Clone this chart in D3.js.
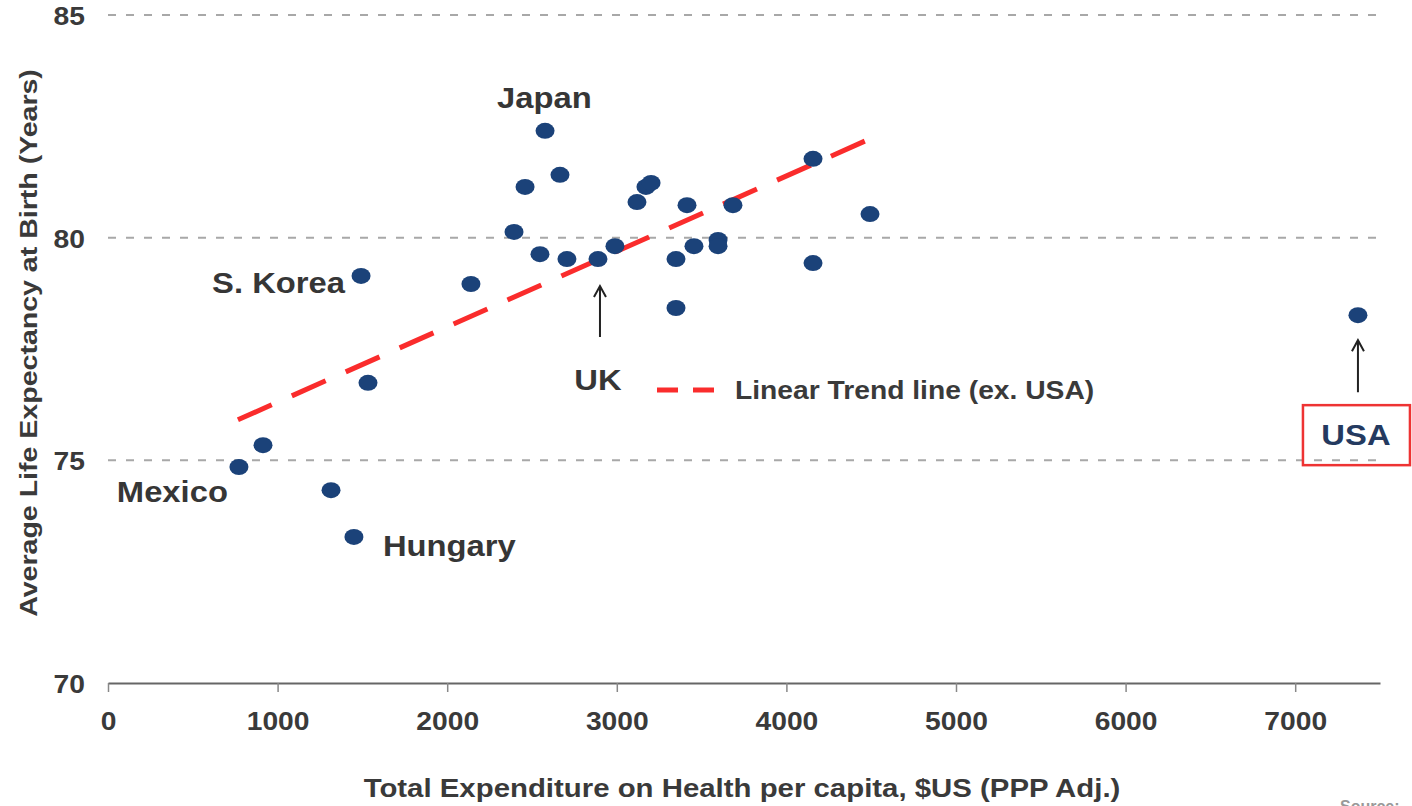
<!DOCTYPE html>
<html lang="en">
<head>
<meta charset="utf-8">
<title>Life expectancy vs health expenditure</title>
<script src="https://cdn.jsdelivr.net/npm/d3@7"></script>
<style>
  body { margin: 0; background: #fff; }
  svg { display: block; font-family: "Liberation Sans", Arial, sans-serif; font-weight: bold; }
  .grid { stroke: #a8a8a8; stroke-width: 2; stroke-dasharray: 8 10; }
  .axis path { stroke: #666; stroke-width: 2; }
  .axis line { stroke: #888; stroke-width: 1.5; }
</style>
</head>
<body>
<div id="chart"></div>
<script>
var width = 1412, height = 806;

// health spend per capita ($US PPP) and life expectancy (years)
var country = ["Mexico", "", "", "Hungary", "S. Korea", "", "", "", "", "", "Japan", "", "", "UK", "",
               "", "", "", "", "", "", "", "", "", "", "", "", "", "USA"];
var spend   = [772, 914, 1315, 1450, 1492, 1533, 2140, 2394, 2459, 2547, 2577, 2665, 2706, 2889, 2989,
               3119, 3172, 3202, 3349, 3349, 3414, 3455, 3597, 3597, 3685, 4157, 4157, 4493, 7370];
var lifeExp = [74.85, 75.34, 74.33, 73.28, 79.14, 76.74, 78.96, 80.13, 81.14, 79.63, 82.40, 81.41, 79.52, 79.52, 79.81,
               80.80, 81.14, 81.23, 79.52, 78.42, 80.73, 79.81, 79.95, 79.81, 80.73, 81.77, 79.43, 80.53, 78.26];

// trend line (ex. USA) end points
var trendX = [766, 4505];
var trendY = [75.91, 82.24];

var xTicks = [0, 1000, 2000, 3000, 4000, 5000, 6000, 7000];
var yTicks = [70, 75, 80, 85];

var svg = d3.select("#chart").append("svg")
    .attr("width", width)
    .attr("height", height);

var x = d3.scaleLinear().domain([0, 7500]).range([108, 1380]);
var y = d3.scaleLinear().domain([70, 85]).range([683, 15]);

var k = 1.13; // text in the picture is a bit wider than Arial

function put(sel, px, py, kx) {
  return sel.attr("transform", "translate(" + px + "," + py + ") scale(" + (kx || k) + ",1)");
}

// grid
svg.selectAll(".grid")
    .data(yTicks.filter(function(d) { return d > 70; }))
  .enter().append("line")
    .attr("class", "grid")
    .attr("x1", x(0)).attr("x2", x(7500))
    .attr("y1", function(d) { return y(d); })
    .attr("y2", function(d) { return y(d); });

// y labels
svg.selectAll(".ylab")
    .data(yTicks)
  .enter().append("text")
    .attr("class", "ylab")
    .attr("text-anchor", "end")
    .attr("fill", "#3a3a3a")
    .style("font-size", "25px")
    .text(function(d) { return d; })
    .each(function(d) { put(d3.select(this), 85, y(d) + 10); });

// x axis
var xAxis = svg.append("g")
    .attr("class", "axis")
    .attr("transform", "translate(0," + y(70) + ")")
    .call(d3.axisBottom(x).tickValues(xTicks).tickSize(9).tickSizeOuter(0).tickFormat(d3.format("d")));

xAxis.selectAll("text")
    .attr("y", 47).attr("dy", 0)
    .attr("fill", "#3a3a3a")
    .style("font-size", "25px")
    .style("font-family", "'Liberation Sans', Arial, sans-serif")
    .style("font-weight", "bold")
    .attr("transform", "scale(" + k + ",1)");

// axis titles
put(svg.append("text"), 742, 797)
    .attr("text-anchor", "middle")
    .attr("fill", "#3a3a3a")
    .style("font-size", "26px")
    .text("Total Expenditure on Health per capita, $US (PPP Adj.)");

svg.append("text")
    .attr("transform", "translate(37,343) rotate(-90) scale(1.19,1)")
    .attr("text-anchor", "middle")
    .attr("fill", "#3a3a3a")
    .style("font-size", "24px")
    .text("Average Life Expectancy at Birth (Years)");

// trend line
svg.append("line")
    .attr("x1", x(trendX[0])).attr("y1", y(trendY[0]))
    .attr("x2", x(trendX[1])).attr("y2", y(trendY[1]))
    .attr("stroke", "#fa2c2c")
    .attr("stroke-width", 5)
    .attr("stroke-dasharray", "37 22");

// points
svg.selectAll(".dot")
    .data(spend)
  .enter().append("ellipse")
    .attr("class", "dot")
    .attr("cx", function(d) { return x(d); })
    .attr("cy", function(d, i) { return y(lifeExp[i]); })
    .attr("rx", 9.5)
    .attr("ry", 8)
    .attr("fill", "#1b4279");

// country labels
var place = {
  "Japan":    { dx: -48, dy: -23, anchor: "start" },
  "S. Korea": { dx: -16, dy: 17,  anchor: "end" },
  "Mexico":   { dx: -11, dy: 35,  anchor: "end" },
  "Hungary":  { dx: 29,  dy: 19,  anchor: "start" },
  "UK":       { dx: 0,   dy: 131, anchor: "middle" }
};

function arrow(px, top, bottom) {
  svg.append("path")
    .attr("d", "M" + px + "," + bottom + "V" + top + "M" + (px - 6) + "," + (top + 11) + "L" + px + "," + top + "L" + (px + 6) + "," + (top + 11))
    .attr("fill", "none")
    .attr("stroke", "#222")
    .attr("stroke-width", 2);
}

country.forEach(function(c, i) {
  if (!c) return;
  var px = x(spend[i]), py = y(lifeExp[i]);
  if (c === "USA") {
    arrow(px, py + 25, py + 77);
    svg.append("rect")
      .attr("x", px - 55).attr("y", py + 90)
      .attr("width", 107).attr("height", 60)
      .attr("fill", "none")
      .attr("stroke", "#ee3333")
      .attr("stroke-width", 2.5);
    put(svg.append("text"), px - 2, py + 130)
      .attr("text-anchor", "middle")
      .attr("fill", "#243a60")
      .style("font-size", "29px")
      .text(c);
    return;
  }
  var p = place[c];
  if (c === "UK") arrow(px + 2, py + 27, py + 78);
  put(svg.append("text"), px + p.dx, py + p.dy)
    .attr("text-anchor", p.anchor)
    .attr("fill", "#363636")
    .style("font-size", "29px")
    .text(c);
});

// legend
svg.append("line")
    .attr("x1", 657).attr("x2", 716)
    .attr("y1", 390).attr("y2", 390)
    .attr("stroke", "#fa2c2c")
    .attr("stroke-width", 5)
    .attr("stroke-dasharray", "21 15");

put(svg.append("text"), 735, 399)
    .attr("fill", "#3a3a3a")
    .style("font-size", "25px")
    .text("Linear Trend line (ex. USA)");

// source note, mostly cut off at the bottom edge
svg.append("text")
    .attr("x", 1340).attr("y", 812)
    .attr("fill", "#999")
    .style("font-size", "16px")
    .text("Source:");
</script>
</body>
</html>
